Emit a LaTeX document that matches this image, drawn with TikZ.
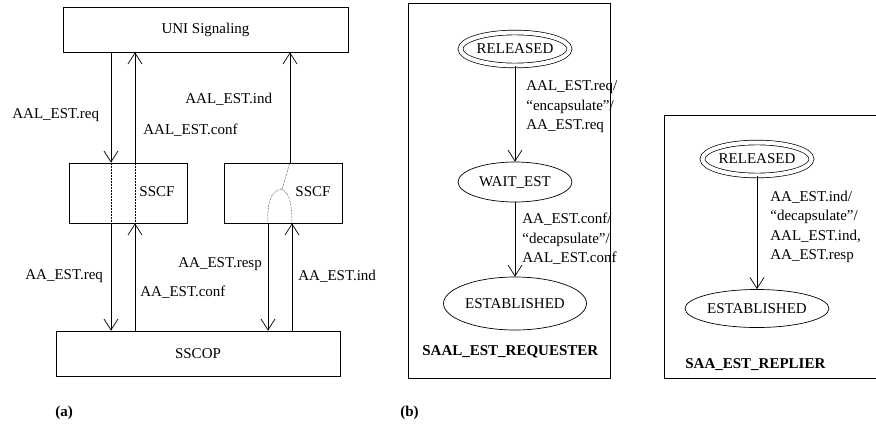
\documentclass[tikz,border=0pt]{standalone}
\usepackage{fontspec}
\setmainfont{Liberation Serif}
\usepackage{tikz}
\usetikzlibrary{shapes.geometric, arrows.meta, positioning}

\begin{document}
\begin{tikzpicture}[x=1pt, y=-1pt, line width=0.7pt,
  font=\fontsize{15}{19.5}\selectfont,
  layerbox/.style={draw, rectangle, inner sep=0pt},
  state/.style={draw, ellipse, inner sep=0pt},
  initstate/.style={state, double, double distance=4pt},
  lbl/.style={inner sep=0pt, anchor=west, align=left},
  fsmtitle/.style={inner sep=0pt, anchor=west, font=\fontsize{15}{19.5}\selectfont\bfseries},
  arr/.style={-{Straight Barb[length=11pt, width=14pt]}},
  trace/.style={densely dotted, line width=0.5pt}]

  \useasboundingbox (0,0) rectangle (876,426);

  % (a) protocol stack
  \node[layerbox, minimum width=285, minimum height=45] (uni) at (205.5,29.5) {UNI Signaling};
  \node[layerbox, minimum width=118, minimum height=60] (sscfl) at (128,193) {};
  \node[layerbox, minimum width=118, minimum height=60] (sscfr) at (283,193) {};
  \node[layerbox, minimum width=284, minimum height=45] (sscop) at (198,353.5) {SSCOP};
  \node[inner sep=0pt] (sscflt) at (157,192) {SSCF};
  \node[inner sep=0pt] (sscfrt) at (313,192) {SSCF};

  \draw[arr] (uni.south -| 111,0) -- (sscfl.north -| 111,0);
  \draw[arr] (sscfl.north -| 135,0) -- (uni.south -| 135,0);
  \draw[arr] (sscfr.north -| 290,0) -- (uni.south -| 290,0);
  \draw[arr] (sscfl.south -| 111,0) -- (sscop.north -| 111,0);
  \draw[arr] (sscop.north -| 135,0) -- (sscfl.south -| 135,0);
  \draw[arr] (sscfr.south -| 268,0) -- (sscop.north -| 268,0);
  \draw[arr] (sscop.north -| 292,0) -- (sscfr.south -| 292,0);

  % paths through SSCF
  \draw[trace] (sscfl.north -| 111,0) -- (sscfl.south -| 111,0);
  \draw[trace] (sscfl.north -| 135,0) -- (sscfl.south -| 135,0);
  \coordinate (fork) at (282,189);
  \draw[trace] (sscfr.north -| 290,0) -- (fork);
  \draw[trace] (fork) .. controls (270,190) and (267,205) .. (sscfr.south -| 268,0);
  \draw[trace] (fork) .. controls (290,194) and (292,205) .. (sscfr.south -| 292,0);

  \node[lbl] (l1) at (12,115) {AAL\_EST.req};
  \node[lbl] (l2) at (143,130) {AAL\_EST.conf};
  \node[lbl] (l3) at (185,99) {AAL\_EST.ind};
  \node[lbl] (l4) at (25,276) {AA\_EST.req};
  \node[lbl] (l5) at (140,292) {AA\_EST.conf};
  \node[lbl] (l6) at (178,264) {AA\_EST.resp};
  \node[lbl] (l7) at (298,276) {AA\_EST.ind};
  \node[fsmtitle] (capa) at (55,413) {(a)};

  % (b) requester
  \node[layerbox, minimum width=202, minimum height=375] (reqbox) at (509,190.5) {};
  \node[initstate, minimum width=109, minimum height=33] (rrel) at (515,49) {RELEASED};
  \node[state, minimum width=114, minimum height=40] (rwait) at (515,182) {WAIT\_EST};
  \node[state, minimum width=143, minimum height=53] (rest) at (515,303.5) {ESTABLISHED};
  \draw[arr] (rrel) -- (rwait);
  \draw[arr] (rwait) -- (rest);
  \node[lbl] (t1) at (526,107) {AAL\_EST.req/\\``encapsulate''/\\AA\_EST.req};
  \node[lbl] (t2) at (522,239) {AA\_EST.conf/\\``decapsulate''/\\AAL\_EST.conf};
  \node[fsmtitle] (reqname) at (422,352) {SAAL\_EST\_REQUESTER};
  \node[fsmtitle] (capb) at (400,413) {(b)};

  % (b) replier
  \node[layerbox, minimum width=216, minimum height=263] (repbox) at (772,246.5) {};
  \node[initstate, minimum width=109, minimum height=33] (prel) at (757,159) {RELEASED};
  \node[state, minimum width=144, minimum height=38] (pest) at (757,308.5) {ESTABLISHED};
  \draw[arr] (prel) -- (pest);
  \node[lbl] (t3) at (770,227) {AA\_EST.ind/\\``decapsulate''/\\AAL\_EST.ind,\\AA\_EST.resp};
  \node[fsmtitle] (repname) at (685,365) {SAA\_EST\_REPLIER};

\end{tikzpicture}
\end{document}
